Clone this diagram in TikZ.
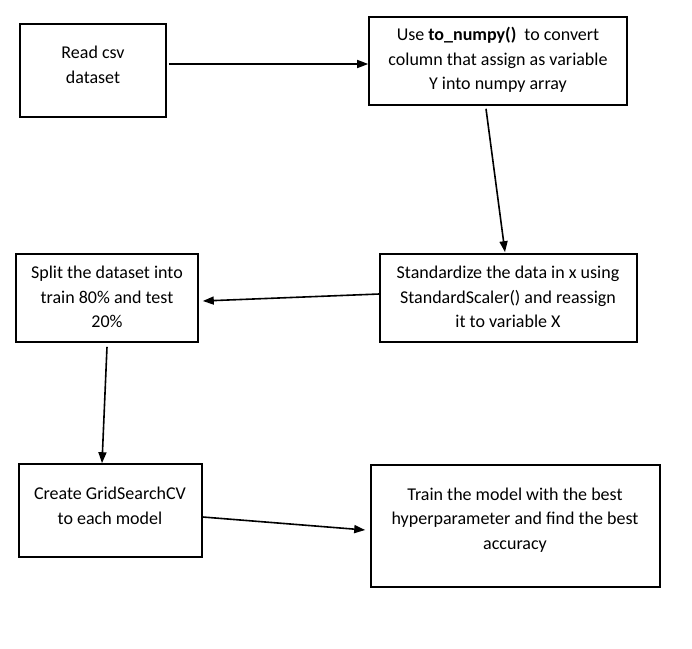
\documentclass[tikz,border=0pt]{standalone}
\usepackage{fontspec}
\setmainfont{Carlito}
\usetikzlibrary{arrows.meta}
\tikzset{
  box/.style={draw=black, line width=1.6pt, inner sep=0pt},
  txt/.style={align=center, inner sep=0pt, font=\fontsize{18pt}{24.5pt}\selectfont},
  conn/.style={line width=1.6pt, -{Triangle[length=11pt,width=8pt]}},
}
\begin{document}
\begin{tikzpicture}[x=1pt,y=-1pt]
\useasboundingbox (0,0) rectangle (692,648);
\fill[white] (0,0) rectangle (692,648);
% boxes
\node[box, minimum width=146pt, minimum height=93pt] (A) at (93,70.5) {};
\node[box, minimum width=258pt, minimum height=88pt] (B) at (498,61) {};
\node[box, minimum width=257pt, minimum height=88pt] (C) at (508.5,298) {};
\node[box, minimum width=182pt, minimum height=88pt] (D) at (107,298) {};
\node[box, minimum width=183pt, minimum height=93pt] (E) at (110.5,510.5) {};
\node[box, minimum width=289pt, minimum height=122pt] (F) at (515.5,526) {};
% texts
\node[txt] (At) at (93,65) {Read csv\\dataset};
\node[txt] (Bt) at (498,60) {Use \textbf{to\_numpy()}\ \ to convert\\column that assign as variable\\Y into numpy array};
\node[txt] (Ct) at (508,297) {Standardize the data in x using\\StandardScaler() and reassign\\it to variable X};
\node[txt] (Dt) at (107,297) {Split the dataset into\\train 80\% and test\\20\%};
\node[txt] (Et) at (110,506) {Create GridSearchCV\\to each model};
\node[txt] (Ft) at (515,520) {Train the model with the best\\hyperparameter and find the best\\accuracy};
% connectors
\draw[conn] ([xshift=2pt,yshift=6.5pt]A.east) -- ([yshift=-3pt]B.west);
\draw[conn] ([xshift=-12pt,yshift=-3pt]B.south) -- ([xshift=-3.5pt,yshift=1pt]C.north);
\draw[conn] ([yshift=4pt]C.west) -- ([xshift=4pt,yshift=-3pt]D.east);
\draw[conn] ([yshift=-4pt]D.south) -- ([xshift=-8.5pt]E.north);
\draw[conn] ([yshift=-6.5pt]E.east) -- ([xshift=-5pt,yshift=-4pt]F.west);
\end{tikzpicture}
\end{document}
